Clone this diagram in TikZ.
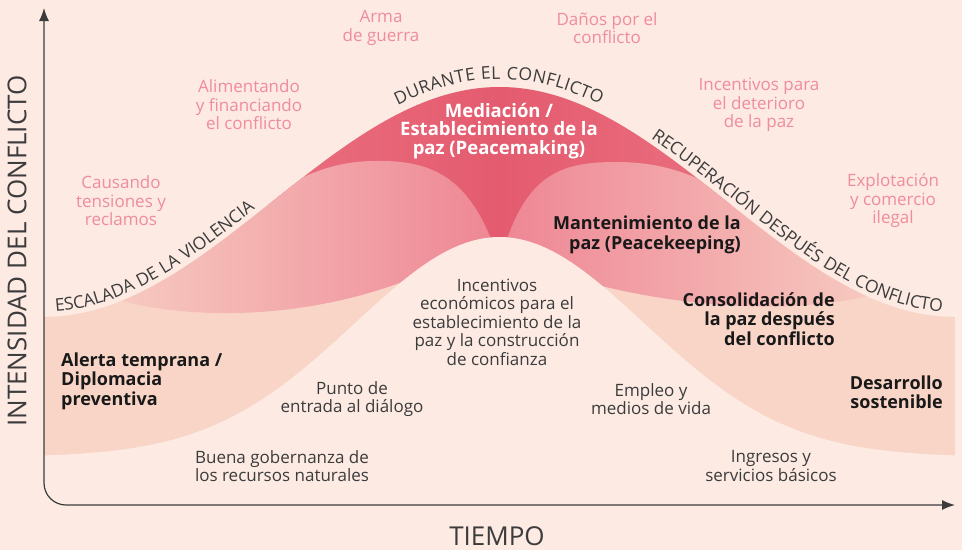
\documentclass[tikz,border=0pt]{standalone}
\usepackage{fontspec}
\setmainfont{Open Sans}
\newfontfamily\stagefamily[LetterSpace=3]{Open Sans}
\usetikzlibrary{arrows.meta, decorations.text}
\definecolor{bgpeach}{HTML}{FCEAE3}
\definecolor{bandpeach}{HTML}{F9D5C7}
\definecolor{lobelight}{HTML}{F7CBC1}
\definecolor{lobedeep}{HTML}{EE8694}
\definecolor{makeedge}{HTML}{EA717F}
\definecolor{makemid}{HTML}{E45B6F}
\definecolor{causepink}{HTML}{F08C9C}
\definecolor{inkgray}{HTML}{3C3C3C}
\newcommand\stagefont{\stagefamily\fontsize{17.5}{17.5}\selectfont}

\tikzset{
  declare function={outerbell(\x)=317-115*(1+cos(0.395*(\x-499.5)));
                    innerbell(\x)=457-220*exp(-0.5*((\x-499.5)/145)*((\x-499.5)/145));},
  cause/.style={text=causepink, align=center, inner sep=0pt, font=\fontsize{17}{18.5}\selectfont},
  factor/.style={text=inkgray, align=center, inner sep=0pt, font=\fontsize{17}{18.5}\selectfont},
  phase/.style={text=black!90, inner sep=0pt, font=\bfseries\fontsize{18}{19.5}\selectfont},
  axislabel/.style={text=inkgray, inner sep=0pt, font=\fontsize{26}{26}\selectfont},
  axisline/.style={draw=inkgray, line width=1.2pt},
  stage/.style={decorate, decoration={text along path, text align=left, raise=#1}},
}

\begin{document}
\begin{tikzpicture}[x=1pt, y=-1pt]
    \fill[bgpeach] (0,0) rectangle (962,550);
    \useasboundingbox (0,0) rectangle (962,550);

    % the conflict curve and its bands
    \begin{scope}
        \clip plot[domain=44:955, samples=150] (\x,{outerbell(\x)}) -- (955,505) -- (44,505) -- cycle;
        \fill[bandpeach] (44,60) rectangle (955,505);
        \shade[left color=makeedge, right color=makeedge, middle color=makemid]
            (250,60) -- (750,60) -- (750,200) -- (499,262) -- (250,200) -- cycle;
        \shade[left color=lobelight, right color=lobedeep]
            (112,298) .. controls (175,318) and (300,325) .. (420,275) -- (497,255)
            .. controls (470,175) and (430,160) .. (375,161)
            .. controls (335,161) and (300,174) .. (250,208) -- cycle;
        \shade[left color=lobedeep, right color=lobelight]
            (502,255) .. controls (525,175) and (560,162) .. (615,162)
            .. controls (660,162) and (695,172) .. (745,205) -- (882,292)
            .. controls (815,313) and (700,312) .. (590,283) -- cycle;
        \fill[bgpeach] plot[domain=44:955, samples=150] (\x,{innerbell(\x)}) -- (955,505) -- (44,505) -- cycle;
    \end{scope}

    % axes
    \coordinate (ytop) at (44,8);
    \coordinate (origin) at (44,505);
    \coordinate (xend) at (955,505);
    \draw[axisline, {Latex[length=13pt,width=10pt]}-{Latex[length=13pt,width=10pt]}, rounded corners=22pt]
        (ytop) -- (origin) -- (xend);
    \node[axislabel, rotate=90] (intensity) at (17,251) {INTENSIDAD DEL CONFLICTO};
    \node[axislabel] (time) at (497,536) {TIEMPO};

    % phases written along the curve
    \path[stage=5pt, decoration={text={|\stagefont\color{inkgray}|ESCALADA DE LA VIOLENCIA}}]
        plot[domain=56:330, samples=90] (\x,{outerbell(\x)});
    \path[stage=8pt, decoration={text={|\stagefont\color{inkgray}|DURANTE EL CONFLICTO}}]
        plot[domain=401:640, samples=90] (\x,{outerbell(\x)});
    \path[stage=5pt, decoration={text={|\stagefont\color{inkgray}|RECUPERACIÓN DESPUÉS DEL CONFLICTO}}]
        plot[domain=648:985, samples=110] (\x,{outerbell(\x)});

    % drivers of conflict
    \node[cause] (weapon) at (381,28) {Arma\\de guerra};
    \node[cause] (damage) at (607,28) {Daños por el\\conflicto};
    \node[cause] (funding) at (249,105) {Alimentando\\y financiando\\el conflicto};
    \node[cause] (decay) at (759,105) {Incentivos para\\el deterioro\\de la paz};
    \node[cause] (tension) at (121,201) {Causando\\tensiones y\\reclamos};
    \node[cause] (trade) at (893,201) {Explotación\\y comercio\\ilegal};

    % peace factors
    \node[factor] (incentives) at (497,322) {Incentivos\\económicos para el\\establecimiento de la\\paz y la construcción\\de confianza};
    \node[factor] (dialogue) at (352,399) {Punto de\\entrada al diálogo};
    \node[factor] (jobs) at (651,399) {Empleo y\\medios de vida};
    \node[factor] (governance) at (282,466) {Buena gobernanza de\\los recursos naturales};
    \node[factor] (income) at (771,466) {Ingresos y\\servicios básicos};

    % interventions
    \node[phase, text=white, align=center, font=\bfseries\fontsize{18.5}{18.5}\selectfont] (making) at (499,131) {Mediación /\\Establecimiento de la\\paz (Peacemaking)};
    \node[phase, align=right, anchor=east] (keeping) at (741,235) {Mantenimiento de la\\paz (Peacekeeping)};
    \node[phase, align=right, anchor=east] (building) at (835,319) {Consolidación de\\la paz después\\del conflicto};
    \node[phase, align=left, anchor=west] (warning) at (61,381) {Alerta temprana /\\Diplomacia\\preventiva};
    \node[phase, align=right, anchor=east] (development) at (943,392) {Desarrollo\\sostenible};
\end{tikzpicture}
\end{document}
